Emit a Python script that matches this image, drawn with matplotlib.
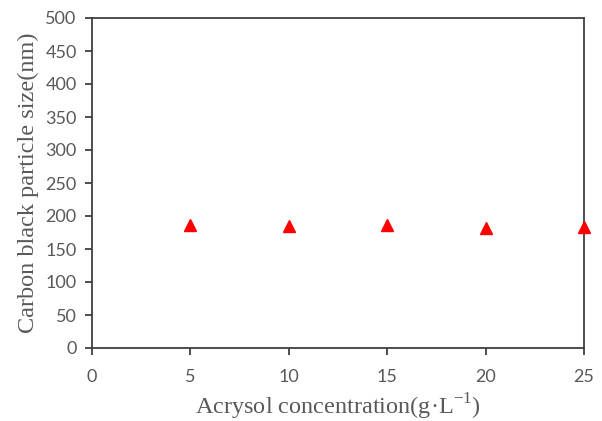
import matplotlib
matplotlib.use("Agg")
import matplotlib.pyplot as plt

concentration = [5, 10, 15, 20, 25]
particle_size = [186, 185, 187, 182, 184]
x_ticks = [0, 5, 10, 15, 20, 25]
y_ticks = [0, 50, 100, 150, 200, 250, 300, 350, 400, 450, 500]

W, H = 602, 421
fig = plt.figure(figsize=(W / 100, H / 100), dpi=100)
left, right, top, bottom = 92, 584, 18, 348
ax = fig.add_axes([left / W, (H - bottom) / H, (right - left) / W, (bottom - top) / H])
ax.plot(concentration, particle_size, linestyle="none", marker="^",
        markersize=9, color="#ff0000", clip_on=False, zorder=5)
ax.set_xlim(0, 25)
ax.set_ylim(0, 500)
ax.set_xticks(x_ticks)
ax.set_yticks(y_ticks)
for s in ax.spines.values():
    s.set_color("#404040")
    s.set_linewidth(1.3)
ax.tick_params(direction="out", length=5, width=1.3, color="#404040",
               labelcolor="#595959", labelsize=13)
ax.tick_params(axis="x", pad=10)
ax.tick_params(axis="y", pad=6)
for lab in ax.get_xticklabels() + ax.get_yticklabels():
    lab.set_family(["Lato", "DejaVu Sans"])
ax.set_xlabel("Acrysol concentration(g·L$^{\\mathregular{-1}}$)", family="Liberation Serif",
              fontsize=17.5, color="#595959")
ax.set_ylabel("Carbon black particle size(nm)", family="Liberation Serif",
              fontsize=17.5, color="#595959")
ax.xaxis.set_label_coords(0.5, (bottom - 407) / (bottom - top))
ax.xaxis.label.set_va("center")
ax.yaxis.set_label_coords((28 - left) / (right - left), 0.5)
ax.yaxis.label.set_va("center")
fig.savefig("out.png", dpi=100)
